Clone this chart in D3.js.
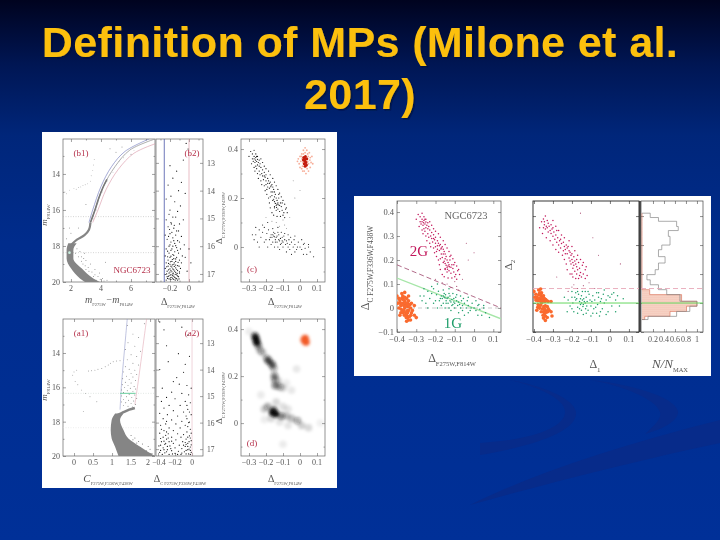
<!DOCTYPE html>
<html>
<head>
<meta charset="utf-8">
<script src="https://cdn.jsdelivr.net/npm/d3@7"></script>
<style>
html, body { margin: 0; padding: 0; background: #00309a; }
svg { display: block; }
</style>
</head>
<body>
<div id="chart"></div>
<script>
var titleLines = ["Definition of MPs (Milone et al.", "2017)"];

// second generation stars, delta F275W-F814W / delta C
var gen2 = [[-0.29,0.39],[-0.28,0.38],[-0.27,0.395],[-0.26,0.38],[-0.27,0.37],[-0.26,0.365],[-0.25,0.37],[-0.262,0.355],[-0.255,0.35],[-0.25,0.358],[-0.265,0.345],[-0.245,0.345],[-0.25,0.335],[-0.26,0.33],[-0.24,0.33],[-0.255,0.32],[-0.23,0.325],[-0.24,0.31],[-0.22,0.315],[-0.235,0.295],[-0.21,0.305],[-0.22,0.29],[-0.205,0.285],[-0.2,0.295],[-0.19,0.28],[-0.2,0.27],[-0.185,0.27],[-0.18,0.26],[-0.175,0.265],[-0.17,0.25],[-0.165,0.255],[-0.18,0.24],[-0.16,0.245],[-0.172,0.246],[-0.155,0.235],[-0.17,0.225],[-0.15,0.225],[-0.145,0.215],[-0.165,0.21],[-0.14,0.2],[-0.155,0.195],[-0.135,0.19],[-0.15,0.185],[-0.13,0.18],[-0.125,0.2],[-0.14,0.17],[-0.12,0.17],[-0.15,0.165],[-0.11,0.165],[-0.13,0.155],[-0.105,0.15],[-0.12,0.145],[-0.095,0.14],[-0.14,0.15],[-0.1,0.13],[-0.085,0.155],[-0.145,0.178],[-0.138,0.162],[-0.128,0.172],[-0.115,0.18],[-0.225,0.3],[-0.215,0.275],[-0.19,0.26],[-0.195,0.235],[-0.16,0.19],[-0.28,0.36],[-0.24,0.355],[-0.275,0.35],
	[-0.3,0.37],[-0.23,0.36],[-0.285,0.34],[-0.22,0.345],[-0.27,0.325],[-0.21,0.33],[-0.265,0.31],[-0.2,0.32],[-0.25,0.3],[-0.185,0.31],[-0.245,0.28],[-0.175,0.295],[-0.23,0.27],[-0.16,0.28],[-0.225,0.255],[-0.15,0.265],[-0.21,0.25],[-0.14,0.25],[-0.205,0.23],[-0.13,0.235],[-0.195,0.215],[-0.12,0.22],[-0.185,0.2],[-0.11,0.205],[-0.18,0.18],[-0.1,0.19],[-0.175,0.16],[-0.09,0.175],[-0.165,0.14],[-0.08,0.16],[-0.155,0.13],[-0.075,0.14],[-0.135,0.125],[-0.09,0.12],[-0.115,0.125],[-0.16,0.225],[-0.175,0.205],[-0.125,0.215],[-0.19,0.245],[-0.15,0.205],[-0.135,0.175],[-0.105,0.18],[-0.2,0.255],[-0.21,0.29],[-0.235,0.34],[-0.27,0.36],[-0.255,0.37],[-0.15,0.16]];
var gen2Sparse = [[-0.14,0.1],[-0.12,0.085],[-0.09,0.09],[-0.06,0.12],[-0.03,0.2],[-0.04,0.27],[0.0,0.23],[-0.165,0.105],[-0.08,0.075],[-0.2,0.12],[-0.1,0.11]];
var gen1 = [[-0.27,0.03],[-0.26,0.05],[-0.25,0.02],[-0.24,0.07],[-0.23,0.04],[-0.22,0.06],[-0.21,0.08],[-0.2,0.03],[-0.195,0.055],[-0.185,0.07],[-0.18,0.03],[-0.17,0.05],[-0.165,0.04],[-0.16,0.05],[-0.155,0.045],[-0.15,0.042],[-0.148,0.055],[-0.145,0.03],[-0.14,0.04],[-0.135,0.02],[-0.13,0.06],[-0.125,0.03],[-0.12,0.025],[-0.115,0.035],[-0.11,0.015],[-0.105,0.04],[-0.1,0.02],[-0.09,0.03],[-0.085,0.01],[-0.08,0.025],[-0.07,0.0],[-0.065,0.03],[-0.06,0.01],[-0.05,0.02],[-0.04,0.0],[-0.035,0.03],[-0.03,0.01],[-0.02,-0.01],[-0.01,0.02],[0.0,0.0],[0.01,-0.01],[0.02,0.01],[0.03,-0.005],[0.04,-0.03],[0.06,-0.02],[-0.17,0.01],[-0.15,0.0],[-0.12,-0.01],[-0.08,-0.02],[-0.05,-0.03],[-0.19,0.0],[-0.24,0.0],[0.08,-0.04],
	[-0.26,0.08],[-0.22,0.09],[-0.19,0.1],[-0.16,0.075],[-0.13,0.08],[-0.11,0.06],[-0.09,0.055],[-0.07,0.05],[-0.03,0.045],[0.01,0.03],[0.05,0.01],[-0.28,0.05],[-0.21,0.02],[-0.16,0.02],[-0.13,0.0],[-0.1,-0.0],[-0.06,-0.01],[-0.03,-0.02],[0.02,-0.03],[0.05,0.0],[-0.125,0.05],[-0.105,0.025],[-0.075,0.015],[-0.155,0.06],[-0.175,0.04],[-0.145,0.02],[-0.095,0.045],[-0.055,0.04],[-0.015,0.0],[0.025,0.015],[-0.135,0.045],[-0.115,0.01]];
var orangeC = [[0.03,0.35],[0.028,0.36],[0.035,0.345],[0.025,0.34],[0.032,0.37],[0.02,0.355],[0.04,0.36],[0.03,0.33],[0.022,0.365],[0.038,0.335]];
var orangeHalo = [[0.018,0.345],[0.045,0.35],[0.026,0.352],[0.034,0.356],[0.03,0.342],[0.012,0.36],[0.05,0.34],[0.03,0.385],[0.015,0.33],[0.048,0.37],[0.005,0.35],[0.058,0.355],[0.025,0.31],[0.04,0.395],[0.0,0.37],[0.06,0.325],[0.01,0.38],[-0.005,0.34],[0.065,0.345],[0.02,0.395],[0.05,0.31],[0.035,0.3],[0.01,0.32],[-0.01,0.36],[0.07,0.37],[0.055,0.385],[0.042,0.32],[0.016,0.31],[0.0,0.325],[0.02,0.38],[0.06,0.365],[0.075,0.34],[-0.015,0.35],[0.03,0.405],[0.045,0.38],[0.008,0.37]];
// cluster field reference stars (orange blob left of the maps)
var orangeA = [[-0.36,0.0],[-0.35,0.01],[-0.37,0.02],[-0.34,-0.01],[-0.355,-0.02],[-0.365,-0.01],[-0.345,0.02],[-0.38,0.01],[-0.33,0.0],[-0.36,0.03],[-0.35,-0.03],[-0.37,-0.02],[-0.34,0.03],[-0.385,0.03],[-0.325,-0.02],[-0.375,0.04],[-0.345,-0.04],[-0.36,0.045],[-0.335,-0.035],[-0.39,0.0],[-0.32,-0.01],[-0.37,0.05],[-0.35,0.04],[-0.34,-0.05],[-0.355,0.015],[-0.348,-0.012],[-0.362,-0.03],[-0.378,-0.005],[-0.332,0.015],[-0.342,0.005],[-0.358,0.025],[-0.352,-0.04],[-0.368,0.035],[-0.382,0.02],[-0.328,-0.03],[-0.39,0.04],[-0.31,-0.03],[-0.35,-0.055],[-0.375,0.06],[-0.395,0.02],[-0.38,-0.02],[-0.325,0.02],[-0.36,0.065],[-0.34,0.05],[-0.33,-0.05],[-0.345,-0.02],[-0.365,0.01],[-0.372,-0.012],[-0.356,0.006],[-0.338,0.012],[-0.3,-0.04],[-0.4,0.05],[-0.31,0.01],[-0.385,-0.03]];
var orangeB = [[-0.36,0.0],[-0.35,0.01],[-0.37,0.015],[-0.34,-0.01],[-0.355,-0.02],[-0.365,-0.008],[-0.345,0.015],[-0.38,0.008],[-0.33,-0.012],[-0.36,0.025],[-0.35,-0.03],[-0.37,-0.018],[-0.34,-0.025],[-0.385,0.02],[-0.325,-0.02],[-0.375,0.028],[-0.345,-0.038],[-0.36,0.035],[-0.335,-0.032],[-0.39,0.01],[-0.32,-0.025],[-0.37,0.035],[-0.35,0.025],[-0.34,-0.045],[-0.355,0.012],[-0.348,-0.012],[-0.362,-0.03],[-0.378,-0.005],[-0.332,0.008],[-0.342,0.005],[-0.358,0.018],[-0.352,-0.042],[-0.368,0.028],[-0.382,0.015],[-0.328,-0.03],[-0.39,0.03],[-0.31,-0.03],[-0.35,-0.052],[-0.375,0.045],[-0.395,0.02],[-0.38,-0.015],[-0.325,0.005],[-0.365,0.048],[-0.33,-0.05],[-0.345,-0.02],[-0.365,0.006],[-0.372,-0.01],[-0.356,0.004],[-0.338,0.012],[-0.305,-0.045],[-0.4,0.04],[-0.31,0.005],[-0.385,-0.025],[-0.34,-0.06]];

var gen2B = [[-0.36,0.28],[-0.35,0.29],[-0.34,0.3],[-0.33,0.285],[-0.345,0.27],[-0.335,0.265],[-0.325,0.275],[-0.33,0.26],[-0.32,0.265],[-0.34,0.255],[-0.315,0.25],[-0.325,0.245],[-0.305,0.255],[-0.31,0.24],[-0.295,0.245],[-0.3,0.23],[-0.285,0.235],[-0.29,0.22],[-0.275,0.225],[-0.28,0.21],[-0.265,0.215],[-0.27,0.2],[-0.255,0.205],[-0.245,0.21],[-0.24,0.195],[-0.23,0.2],[-0.225,0.19],[-0.235,0.185],[-0.22,0.195],[-0.215,0.18],[-0.21,0.175],[-0.225,0.17],[-0.205,0.165],[-0.215,0.155],[-0.2,0.15],[-0.19,0.16],[-0.195,0.14],[-0.185,0.145],[-0.205,0.135],[-0.19,0.13],[-0.18,0.135],[-0.195,0.12],[-0.175,0.125],[-0.165,0.14],[-0.185,0.11],[-0.17,0.115],[-0.16,0.12],[-0.175,0.1],[-0.155,0.105],[-0.145,0.13],[-0.15,0.09],[-0.14,0.1],[-0.165,0.085],[-0.13,0.115],[-0.2,0.1],[-0.245,0.18],[-0.26,0.19],[-0.3,0.26],[-0.28,0.25],[-0.35,0.26],
	[-0.37,0.26],[-0.3,0.285],[-0.355,0.24],[-0.285,0.265],[-0.335,0.225],[-0.27,0.25],[-0.315,0.215],[-0.255,0.235],[-0.3,0.2],[-0.24,0.225],[-0.285,0.185],[-0.215,0.215],[-0.27,0.175],[-0.2,0.195],[-0.25,0.165],[-0.185,0.18],[-0.24,0.15],[-0.17,0.165],[-0.23,0.135],[-0.155,0.15],[-0.225,0.115],[-0.14,0.14],[-0.21,0.1],[-0.125,0.125],[-0.195,0.09],[-0.12,0.095],[-0.18,0.085],[-0.13,0.085],[-0.21,0.145],[-0.175,0.15],[-0.2,0.17],[-0.235,0.17],[-0.26,0.22],[-0.31,0.27],[-0.345,0.28],[-0.16,0.095]];
var gen2BSparse = [[-0.19,0.063],[-0.11,0.07],[-0.155,0.31],[-0.09,0.225],[-0.06,0.165],[0.055,0.135],[-0.17,0.05],[-0.14,0.06],[-0.2,0.055],[-0.08,0.05],[-0.22,0.04],[-0.28,0.09]];
var gen1B = [[-0.22,0.01],[-0.21,-0.01],[-0.2,0.02],[-0.195,0.0],[-0.19,-0.03],[-0.185,0.02],[-0.18,0.01],[-0.17,-0.015],[-0.165,0.03],[-0.16,0.005],[-0.155,-0.005],[-0.15,0.0],[-0.145,0.01],[-0.14,-0.005],[-0.135,0.005],[-0.13,0.0],[-0.128,-0.02],[-0.125,0.02],[-0.12,0.005],[-0.115,-0.025],[-0.11,0.03],[-0.105,0.01],[-0.1,-0.01],[-0.09,0.025],[-0.085,-0.02],[-0.08,0.01],[-0.07,0.035],[-0.065,-0.005],[-0.06,0.02],[-0.05,-0.03],[-0.045,0.015],[-0.035,0.03],[-0.03,0.0],[-0.02,-0.04],[-0.01,0.025],[0.0,0.02],[0.01,-0.01],[0.02,0.035],[0.03,0.01],[0.05,-0.01],[-0.15,0.025],[-0.13,0.04],[-0.17,-0.035],[-0.14,-0.04],[-0.1,-0.045],[-0.07,-0.035],[-0.2,-0.02],[-0.18,0.035],[-0.04,-0.02],[0.07,0.015],
	[-0.225,-0.03],[-0.2,0.04],[-0.17,0.04],[-0.15,-0.025],[-0.145,0.04],[-0.125,-0.035],[-0.115,0.04],[-0.09,-0.035],[-0.06,0.035],[-0.055,-0.045],[-0.03,0.045],[-0.01,-0.03],[0.01,0.03],[0.03,-0.03],[-0.16,-0.02],[-0.175,0.015],[-0.138,0.015],[-0.142,-0.012],[-0.122,-0.01],[-0.095,0.005],[-0.075,-0.015],[-0.05,0.005],[-0.02,0.01],[0.04,0.025],[-0.24,0.02],[-0.155,0.015]];

// density map of panel d: x, y, darkness
var densityD = [[-0.26,0.36,1],[-0.255,0.345,1],[-0.265,0.37,0.7],[-0.245,0.33,0.5],[-0.235,0.31,0.3],[-0.22,0.3,0.25],[-0.195,0.275,0.4],[-0.185,0.265,0.65],[-0.165,0.25,0.65],[-0.155,0.235,0.35],[-0.15,0.2,0.5],[-0.15,0.185,0.3],[-0.145,0.16,0.5],[-0.12,0.155,0.35],[-0.1,0.15,0.18],[-0.13,0.18,0.2],[-0.16,0.045,1],[-0.145,0.04,1],[-0.155,0.055,0.7],[-0.19,0.07,0.3],[-0.21,0.06,0.2],[-0.11,0.03,0.5],[-0.08,0.03,0.25],[-0.05,0.02,0.25],[-0.015,0.01,0.35],[0.01,-0.01,0.18],[0.05,-0.02,0.15],[-0.14,0.09,0.15],[-0.1,0.07,0.12],[-0.17,0.02,0.15],[-0.07,0.06,0.1],[-0.05,0.14,0.09],[-0.02,0.23,0.09],[-0.07,-0.01,0.1],[-0.23,0.12,0.08],[-0.3,0.39,0.07],[-0.1,-0.09,0.08],[-0.12,0.005,0.1],[0.12,0.0,0.06],[-0.21,0.015,0.07],[-0.08,0.17,0.07]];
var orangeD = [[0.03,0.36],[0.03,0.35],[0.035,0.345],[0.025,0.355]];

// ridge of the main sequence: mag, left colour, right colour
var b1Main = [[17.85,1.82,2.38],[18.22,1.71,2.16],[18.69,1.71,2.16],[19.24,2.0,2.71],[19.8,2.6,3.49],[20.0,2.93,3.93]];
var b1Giant = [[7.6,12.06],[5.93,12.67],[4.93,13.6],[4.16,14.7],[3.6,16.0],[3.3,16.7]];
var b1GiantLow = [[4.4,14.3],[4.16,14.7],[3.85,15.35],[3.6,16.0],[3.3,16.7]];
var b1Sub = [[3.3,16.7],[3.2,17.1],[2.9,17.4],[2.4,17.65],[2.05,17.9]];
var b1Blue = [[7.2,12.06],[5.6,12.75],[4.7,13.6],[4.0,14.7],[3.45,16.0],[3.2,16.7]];
var b1Red = [[7.7,12.3],[6.2,12.85],[5.15,13.75],[4.35,14.85],[3.8,16.0],[3.45,16.7]];
var b1Hb = [[1.6,15.0],[1.9,14.9],[2.2,14.8],[2.5,14.75],[2.8,14.65],[3.1,14.55],[3.3,14.4],[3.35,14.1],[3.45,13.8],[3.5,13.5],[3.55,13.2],[1.7,15.1],[2.35,14.85],[2.65,14.72],[2.95,14.6]];
var b1Field = [[4.6,12.6],[5.0,12.8],[5.4,12.5],[6.0,12.9],[3.0,15.7],[2.5,17.0],[2.0,17.3],[1.9,17.0],[2.3,18.4],[2.7,18.6],[3.0,18.8],[3.3,19.0],[3.6,19.3],[3.9,19.5],[4.1,19.8],[3.2,19.4],[3.5,19.7],[3.7,19.9],[2.9,18.4],[4.3,18.9],[2.8,19.0],[3.0,19.3],[1.7,17.6],[3.4,19.45],[4.2,19.95],[3.8,19.7],[2.5,18.6],[2.7,18.85],[2.95,19.1],[3.15,19.2],[2.6,18.3],[2.4,18.15],[3.6,19.6],[3.95,19.85],[4.4,19.9],[2.85,18.7]];
var b1RgbDots = [[5.2,13.3],[4.8,13.9],[4.4,14.4],[4.1,15.0],[3.8,15.6],[3.7,16.0],[3.5,16.5],[6.2,12.7],[5.5,13.1]];

var b2Stars = [[-0.03,12.3],[-0.01,12.5],[-0.06,12.9],[-0.2,13.1],[-0.13,13.3],[-0.17,13.55],[-0.08,13.7],[-0.22,13.8],[-0.11,14.0],[-0.04,14.1],[-0.19,14.2],[-0.24,14.3],[-0.15,14.4],[-0.09,14.55],[-0.2,14.7],[-0.12,14.75],[-0.21,14.85],[-0.17,14.95],[-0.14,14.95],[-0.24,15.05],[-0.06,15.05],[-0.19,15.15],[-0.1,15.2],[-0.22,15.3],[-0.16,15.35],[-0.13,15.45],[-0.2,15.55],[-0.25,15.6],[-0.08,15.65],[-0.17,15.7],[-0.23,15.75],[-0.12,15.8],[-0.19,15.85],[-0.15,15.9],[-0.05,15.95],[-0.21,16.0],[-0.17,16.0],[-0.13,16.05],[-0.24,16.1],[-0.09,16.1],[-0.19,16.15],[-0.15,16.2],[-0.21,16.25],[-0.11,16.25],[-0.17,16.3],[-0.25,16.35],[-0.07,16.35],[-0.13,16.4],[-0.2,16.4],[-0.16,16.45],[-0.22,16.5],[-0.1,16.5],[-0.18,16.55],[-0.14,16.55],[-0.24,16.6],[-0.08,16.6],[-0.2,16.65],[-0.16,16.65],[-0.12,16.7],[-0.22,16.72],[-0.18,16.75],[-0.14,16.78],[-0.25,16.8],[-0.09,16.8],[-0.2,16.82],[-0.16,16.85],[-0.12,16.88],[-0.23,16.9],[-0.18,16.92],[-0.14,16.95],[-0.21,16.97],[-0.1,16.97],[-0.17,17.0],[-0.25,17.02],[-0.13,17.03],[-0.2,17.05],[-0.16,17.08],[-0.23,17.1],[-0.11,17.1],[-0.18,17.12],[-0.14,17.15],[-0.21,17.18],[-0.16,17.2],[-0.24,17.22],[-0.12,17.22],[0.0,16.1],[0.02,16.6],[-0.02,16.9],[-0.04,16.4],
	[-0.185,15.2],[-0.155,15.25],[-0.205,15.4],[-0.11,15.45],[-0.18,15.5],[-0.14,15.6],[-0.215,15.65],[-0.16,15.8],[-0.1,15.85],[-0.2,15.95],[-0.14,15.98],[-0.18,16.1],[-0.225,16.18],[-0.12,16.15],[-0.16,16.33],[-0.19,16.36],[-0.225,16.38],[-0.14,16.46],[-0.175,16.48],[-0.115,16.58],[-0.195,16.56],[-0.155,16.6],[-0.215,16.62],[-0.175,16.67],[-0.14,16.68],[-0.105,16.72],[-0.19,16.72],[-0.155,16.73],[-0.235,16.74],[-0.17,16.82],[-0.13,16.83],[-0.215,16.85],[-0.19,16.88],[-0.15,16.9],[-0.1,16.92],[-0.2,16.93],[-0.165,16.97],[-0.125,16.98],[-0.235,17.0],[-0.19,17.02],[-0.145,17.02],[-0.175,17.06],[-0.12,17.07],[-0.215,17.08],[-0.15,17.12],[-0.195,17.14],[-0.17,17.17],[-0.225,17.16],[-0.13,17.17],[-0.19,17.2],[-0.105,17.18],[-0.145,17.22]];
var a2Stars = [[-0.38,12.2],[-0.33,12.5],[-0.12,12.4],[-0.05,12.7],[-0.3,13.1],[-0.16,13.4],[-0.03,13.5],[-0.28,13.7],[-0.08,13.8],[-0.38,14.0],[-0.1,14.1],[-0.18,14.3],[-0.22,14.45],[-0.15,14.55],[-0.06,14.6],[-0.35,14.7],[-0.01,14.7],[-0.24,14.85],[-0.12,14.9],[-0.04,14.95],[-0.3,15.05],[-0.2,15.1],[-0.36,15.2],[-0.08,15.2],[-0.02,15.25],[-0.27,15.35],[-0.14,15.35],[-0.33,15.45],[-0.05,15.5],[-0.22,15.55],[-0.1,15.6],[-0.38,15.65],[-0.29,15.7],[-0.01,15.7],[-0.17,15.75],[-0.34,15.85],[-0.06,15.85],[-0.24,15.9],[-0.12,15.95],[-0.03,15.98],[-0.31,16.05],[-0.19,16.05],[-0.37,16.1],[-0.08,16.1],[-0.27,16.2],[-0.14,16.2],[-0.02,16.25],[-0.33,16.3],[-0.22,16.3],[-0.06,16.35],[-0.38,16.4],[-0.28,16.42],[-0.17,16.42],[-0.1,16.45],[-0.03,16.5],[-0.34,16.55],[-0.24,16.55],[-0.13,16.55],[-0.3,16.62],[-0.07,16.62],[-0.19,16.65],[-0.01,16.68],[-0.36,16.72],[-0.27,16.72],[-0.11,16.72],[-0.22,16.78],[-0.05,16.78],[-0.32,16.82],[-0.15,16.85],[-0.39,16.88],[-0.26,16.88],[-0.08,16.9],[-0.02,16.92],[-0.34,16.95],[-0.2,16.95],[-0.12,16.98],[-0.29,17.02],[-0.05,17.02],[-0.37,17.05],[-0.24,17.06],[-0.16,17.08],[-0.09,17.1],[-0.01,17.12],[-0.32,17.14],[-0.2,17.16],[-0.04,17.18],[-0.27,17.2],[-0.13,17.2],
	[-0.06,15.35],[-0.03,15.6],[-0.07,15.75],[-0.3,15.95],[-0.04,16.0],[-0.36,16.25],[-0.05,16.15],[-0.01,16.4],[-0.3,16.35],[-0.05,16.55],[-0.02,16.58],[-0.31,16.48],[-0.37,16.6],[-0.08,16.75],[-0.035,16.72],[-0.33,16.7],[-0.28,16.58],[-0.07,16.82],[-0.01,16.84],[-0.31,16.78],[-0.37,16.85],[-0.24,16.7],[-0.29,16.9],[-0.05,16.9],[-0.1,16.85],[-0.035,17.0],[-0.33,17.02],[-0.25,16.98],[-0.38,17.12],[-0.07,17.05],[-0.02,17.05],[-0.3,17.1],[-0.23,17.18],[-0.12,17.15],[-0.07,17.18],[-0.35,17.2],[-0.02,17.2],[-0.17,17.2]];

var a1Main = [[17.52,1.08,1.3],[17.9,0.99,1.21],[18.49,0.965,1.3],[18.98,0.99,1.43],[19.46,1.08,1.74],[20.0,1.17,2.13]];
var a1Sub = [[1.6,17.2],[1.45,17.3],[1.3,17.45],[1.15,17.6]];
var a1Blue = [[1.4,12.02],[1.36,13.0],[1.3,14.5],[1.25,15.8],[1.21,17.3]];
var a1Red = [[1.91,12.02],[1.85,13.0],[1.76,14.5],[1.68,15.8],[1.6,17.0]];
var a1Hb = [[1.21,14.45],[1.12,14.47],[1.03,14.51],[0.96,14.6],[0.9,14.7],[0.82,14.8],[0.73,14.9],[0.63,14.95],[0.55,15.0],[0.46,15.03],[0.38,15.05],[0.07,15.0],[-0.035,15.29],[0.03,15.67],[0.2,16.16],[0.42,16.55],[0.6,16.84],[0.245,17.4],[0.0,15.1],[0.1,15.85],[0.3,16.35]];
var a1Rgb = [[1.4,12.4],[1.85,12.3],[1.55,12.9],[1.7,13.1],[1.42,13.4],[1.6,13.6],[1.35,13.8],[1.75,13.9],[1.5,14.1],[1.65,14.2],[1.4,14.4],[1.55,14.6],[1.7,14.7],[1.35,14.8],[1.45,14.95],[1.6,15.0],[1.3,15.1],[1.5,15.2],[1.65,15.25],[1.38,15.35],[1.55,15.4],[1.28,15.5],[1.45,15.55],[1.62,15.6],[1.35,15.7],[1.5,15.75],[1.27,15.85],[1.42,15.9],[1.58,15.95],[1.33,16.0],[1.48,16.05],[1.62,16.1],[1.25,16.15],[1.4,16.2],[1.55,16.25],[1.3,16.3],[1.45,16.4],[1.6,16.45],[1.25,16.5],[1.38,16.55],[1.52,16.6],[1.65,16.65],[1.3,16.7],[1.43,16.75],[1.57,16.8],[1.25,16.85],[1.36,16.9],[1.5,16.95],[1.62,17.0],[1.3,17.05],[1.42,17.1],[1.54,17.15]];
var a1Right = [[1.5,18.8],[1.6,18.95],[1.7,19.15],[1.8,19.3],[1.95,19.45],[1.75,19.5],[1.9,19.7],[2.05,19.85],[1.85,19.85],[1.65,19.25],[1.55,19.05],[2.0,19.6]];

// histogram of the delta 2 distribution (right panel)
var histEdges = [0.31,0.295,0.282,0.264,0.25,0.23,0.2,0.184,0.16,0.138,0.115,0.098,0.08,0.063,0.046,0.029,0.006,-0.011,-0.029,-0.046,-0.057];
var histAll = [0.15,0.3,0.63,0.66,0.48,0.51,0.36,0.3,0.42,0.3,0.24,0.09,0.15,0.3,0.45,0.69,1,0.87,0.63,0.11];
var hist1G = [0,0,0,0,0,0,0,0,0,0,0,0,0,0,0.14,0.72,1,0.81,0.51,0.05];

var axC1 = [-0.3, -0.2, -0.1, 0, 0.1];
var axCy = [0, 0.2, 0.4];
var axMag = [14, 16, 18, 20];
var axRight = [13, 14, 15, 16, 17];

var width = 720, height = 540;
var lab = "#555", red = "#b5304a", serif = "'Liberation Serif', 'DejaVu Serif', serif";

var svg = d3.select("#chart").append("svg").attr("width", width).attr("height", height);
var defs = svg.append("defs");

var grad = defs.append("linearGradient").attr("id", "bg").attr("x1", 0).attr("x2", 0).attr("y1", 0).attr("y2", 1);
[[0, "#00031f"], [0.12, "#001654"], [0.25, "#00267a"], [0.45, "#002c8c"], [1, "#003098"]].forEach(function(s) {
	grad.append("stop").attr("offset", s[0]).attr("stop-color", s[1]);
});

defs.append("filter").attr("id", "soft").attr("filterUnits", "userSpaceOnUse")
	.attr("x", 0).attr("y", 0).attr("width", width).attr("height", height)
	.append("feGaussianBlur").attr("stdDeviation", 0.45);
defs.append("filter").attr("id", "softD").attr("filterUnits", "userSpaceOnUse")
	.attr("x", 0).attr("y", 0).attr("width", width).attr("height", height)
	.append("feGaussianBlur").attr("stdDeviation", 1.7);
defs.append("filter").attr("id", "titleShadow").attr("x", "-5%").attr("y", "-10%").attr("width", "110%").attr("height", "130%")
	.append("feDropShadow").attr("dx", 1.5).attr("dy", 1.5).attr("stdDeviation", 0.6).attr("flood-color", "#000a30").attr("flood-opacity", 0.7);
var hatch = defs.append("pattern").attr("id", "hatch").attr("width", 2).attr("height", 2).attr("patternUnits", "userSpaceOnUse");
hatch.append("rect").attr("width", 2).attr("height", 2).attr("fill", "#f8dcd0");
hatch.append("circle").attr("cx", 1).attr("cy", 1).attr("r", 0.6).attr("fill", "#ee9f88");

svg.append("rect").attr("width", width).attr("height", height).attr("fill", "url(#bg)");

// swooshes of the slide template
var swoosh = svg.append("g").attr("fill", "#072b8a");
swoosh.append("path").attr("d", "M470,505C540,470 640,440 720,420L720,443C640,460 560,480 470,505Z");
swoosh.append("path").attr("d", "M480,455C540,445 578,430 576,412C574,398 540,385 510,380C535,386 565,398 565,412C565,428 530,440 480,443Z");
swoosh.append("path").attr("d", "M590,380C640,385 678,400 678,412C678,422 660,430 645,434C655,425 662,418 660,412C655,398 620,385 590,380Z");

var title = svg.append("g").attr("filter", "url(#titleShadow)");
title.selectAll("text").data(titleLines).enter().append("text")
	.attr("x", 360).attr("y", function(d, i) { return 57 + i * 52; })
	.attr("text-anchor", "middle")
	.attr("font-family", "'Liberation Sans', Arial, sans-serif")
	.attr("font-weight", "bold").attr("font-size", 43).attr("letter-spacing", 0.4)
	.attr("fill", "#fcc00a")
	.text(function(d) { return d; });

var left = svg.append("g").attr("filter", "url(#soft)");
left.append("rect").attr("x", 42).attr("y", 132).attr("width", 295).attr("height", 356).attr("fill", "#fff");
var right = svg.append("g").attr("filter", "url(#soft)");
right.append("rect").attr("x", 354).attr("y", 196).attr("width", 357).attr("height", 180).attr("fill", "#fff");

var clipN = 0;

function tickFmt(v) {
	return String(v).replace("-", "\u2212");
}

// frame with inward ticks on all four sides, returns scales and a clipped group
function panel(host, box, xDom, yDom, o) {
	var x = d3.scaleLinear().domain(xDom).range([box[0], box[2]]);
	var y = d3.scaleLinear().domain(yDom).range([box[3], box[1]]);
	var g = host.append("g");
	var col = o.col || "#666";
	var fs = o.fs || 8;

	function axis(gen, tx, ty, vals, size) {
		var a = g.append("g").attr("transform", "translate(" + tx + "," + ty + ")")
			.call(gen.tickValues(vals).tickSize(size).tickFormat(""));
		a.select(".domain").remove();
		a.selectAll("line").attr("stroke", col).attr("stroke-width", 0.6);
	}
	axis(d3.axisBottom(x), 0, box[3], o.xTicks, -3);
	axis(d3.axisTop(x), 0, box[1], o.xTicks, -3);
	axis(d3.axisLeft(y), box[0], 0, o.yTicks, -3);
	axis(d3.axisRight(y), box[2], 0, o.yTicks, -3);
	if (o.xMinor) { axis(d3.axisBottom(x), 0, box[3], o.xMinor, -1.5); axis(d3.axisTop(x), 0, box[1], o.xMinor, -1.5); }
	if (o.yMinor) { axis(d3.axisLeft(y), box[0], 0, o.yMinor, -1.5); axis(d3.axisRight(y), box[2], 0, o.yMinor, -1.5); }

	g.append("rect").attr("x", box[0]).attr("y", box[1]).attr("width", box[2] - box[0]).attr("height", box[3] - box[1])
		.attr("fill", "none").attr("stroke", col).attr("stroke-width", o.sw || 0.7);

	if (o.xLab) {
		g.selectAll(null).data(o.xLab).enter().append("text")
			.attr("x", function(d) { return x(d) + (o.xLabShift ? o.xLabShift(d) : 0); }).attr("y", box[3] + (o.xLabDy || 9))
			.attr("text-anchor", "middle").attr("font-family", serif).attr("font-size", fs).attr("fill", lab)
			.text(tickFmt);
	}
	if (o.yLab) {
		g.selectAll(null).data(o.yLab).enter().append("text")
			.attr("x", o.yLabRight ? box[2] + 4 : box[0] - 3).attr("y", function(d) { return y(d) + 3; })
			.attr("text-anchor", o.yLabRight ? "start" : "end").attr("font-family", serif).attr("font-size", fs).attr("fill", lab)
			.text(tickFmt);
	}

	var id = "clip" + (clipN++);
	defs.append("clipPath").attr("id", id).append("rect")
		.attr("x", box[0]).attr("y", box[1]).attr("width", box[2] - box[0]).attr("height", box[3] - box[1]);
	return { x: x, y: y, g: host.append("g").attr("clip-path", "url(#" + id + ")") };
}

function dots(p, data, r, fill, op) {
	p.g.append("g").selectAll("circle").data(data).enter().append("circle")
		.attr("cx", function(d) { return p.x(d[0]); })
		.attr("cy", function(d) { return p.y(d[1]); })
		.attr("r", r).attr("fill", fill).attr("opacity", op === undefined ? 1 : op);
}

function curve(p, data, stroke, sw, dash) {
	var line = d3.line().x(function(d) { return p.x(d[0]); }).y(function(d) { return p.y(d[1]); }).curve(d3.curveCatmullRom);
	p.g.append("path").attr("d", line(data)).attr("fill", "none").attr("stroke", stroke)
		.attr("stroke-width", sw).attr("stroke-dasharray", dash || null);
}

function ridge(p, data, fill) {
	var area = d3.area().curve(d3.curveMonotoneY)
		.y(function(d) { return p.y(d[0]); })
		.x0(function(d) { return p.x(d[1]); })
		.x1(function(d) { return p.x(d[2]); });
	p.g.append("path").attr("d", area(data)).attr("fill", fill);
}

function label(host, x, y, txt, fill, size, rot) {
	return host.append("text").attr("x", x).attr("y", y).attr("font-family", serif)
		.attr("font-size", size).attr("fill", fill).attr("text-anchor", "middle")
		.attr("transform", rot ? "rotate(" + rot + " " + x + " " + y + ")" : null)
		.text(txt);
}

// symbol plus small subscript, pairs may repeat for m_a - m_b
function subLabel(host, x, y, parts, size, subSize, rot, mainItalic) {
	var t = host.append("text").attr("x", x).attr("y", y).attr("font-family", serif)
		.attr("text-anchor", "middle").attr("fill", lab)
		.attr("transform", rot ? "rotate(" + rot + " " + x + " " + y + ")" : null);
	var shift = size * 0.3;
	parts.forEach(function(part, i) {
		t.append("tspan").attr("font-size", size).attr("font-style", mainItalic ? "italic" : null)
			.attr("dy", i ? -shift : null).text(part[0]);
		t.append("tspan").attr("font-size", subSize).attr("dy", shift).text(part[1]);
	});
}

// -------- left figure --------
var pB1 = panel(left, [63, 139, 155, 282], [1.47, 7.6], [20, 12.06], {
	xTicks: [2, 4, 6], xMinor: [3, 5, 7], yTicks: axMag, yMinor: [13, 15, 17, 19],
	xLab: [2, 4, 6], yLab: axMag
});
curve(pB1, [[1.47, 16.37], [7.6, 16.37]], "#aaa", 0.5, "1 1.5");
curve(pB1, [[1.47, 18.37], [7.6, 18.37]], "#aaa", 0.5, "1 1.5");
ridge(pB1, b1Main, "#858585");
curve(pB1, b1Sub, "#858585", 2.2);
curve(pB1, b1Giant, "#999", 0.8);
curve(pB1, b1GiantLow, "#777", 1.6);
curve(pB1, b1Blue, "#6a72b8", 0.6);
curve(pB1, b1Red, "#d896a6", 0.6);
dots(pB1, b1RgbDots, 0.4, "#999");
dots(pB1, b1Hb, 0.45, "#999");
dots(pB1, b1Field, 0.5, "#8a8a8a");
dots(pB1, [[1.9, 18.37]], 1.3, "#c8f0e0");

var pB2 = panel(left, [156, 139, 203, 282], [-0.347, 0.147], [17.29, 12.14], {
	xTicks: [-0.2, 0], xMinor: [-0.3, -0.1, 0.1], yTicks: axRight,
	xLab: [-0.2, 0], yLab: axRight, yLabRight: true
});
curve(pB2, [[-0.26, 12.14], [-0.26, 17.29]], "#4a55a8", 0.8);
curve(pB2, [[0, 12.14], [0, 17.29]], "#e0a0ae", 0.7);
dots(pB2, b2Stars, 0.6, "#111");

var pC = panel(left, [241, 139, 325, 282], [-0.347, 0.147], [-0.143, 0.441], {
	xTicks: axC1, yTicks: axCy, yMinor: [-0.1, 0.1, 0.3],
	xLab: axC1, yLab: axCy
});
dots(pC, orangeHalo, 0.9, "#f59a80", 0.8);
dots(pC, orangeC, 1.5, "#c41c10");
dots(pC, gen2, 0.6, "#111");
dots(pC, gen2Sparse, 0.45, "#444");
dots(pC, gen1, 0.55, "#111");

var pA1 = panel(left, [63, 319, 155, 456], [-0.29, 2.13], [20, 12.02], {
	xTicks: [0, 0.5, 1, 1.5, 2], yTicks: axMag, yMinor: [13, 15, 17, 19],
	xLab: [0, 0.5, 1, 1.5, 2], yLab: axMag,
	xLabShift: function(d) { return d === 2 ? -2 : 0; }
});
curve(pA1, [[-0.29, 16.35], [2.13, 16.35]], "#c4d0c8", 0.5, "1 1.5");
curve(pA1, [[-0.29, 18.35], [2.13, 18.35]], "#ddd", 0.5, "1 1.5");
curve(pA1, a1Blue, "#8088c0", 0.5);
curve(pA1, a1Red, "#dc9aa8", 0.5);
curve(pA1, [[1.21, 16.35], [1.62, 16.35]], "#6ccfa0", 1);
dots(pA1, a1Rgb, 0.45, "#444");
dots(pA1, a1Hb, 0.45, "#666");
dots(pA1, a1Right, 0.5, "#666");
curve(pA1, a1Sub, "#858585", 2.5);
ridge(pA1, a1Main, "#858585");

var pA2 = panel(left, [156, 319, 203, 456], [-0.424, 0.129], [17.26, 12.09], {
	xTicks: [-0.4, -0.2, 0], yTicks: axRight,
	xLab: [-0.4, -0.2, 0], yLab: axRight, yLabRight: true, fs: 7.5,
	xLabShift: function(d) { return d === -0.4 ? 1 : 0; }
});
curve(pA2, [[0, 12.09], [0, 17.26]], "#e8b8c2", 0.6);
dots(pA2, a2Stars, 0.6, "#111");

var pD = panel(left, [241, 319, 325, 456], [-0.347, 0.147], [-0.14, 0.443], {
	xTicks: axC1, yTicks: axCy, yMinor: [-0.1, 0.1, 0.3],
	xLab: axC1, yLab: axCy
});
var dens = pD.g.append("g").attr("filter", "url(#softD)");
dens.selectAll("circle").data(densityD).enter().append("circle")
	.attr("cx", function(d) { return pD.x(d[0]); })
	.attr("cy", function(d) { return pD.y(d[1]); })
	.attr("r", 3.8).attr("fill", "#111")
	.attr("opacity", function(d) { return d[2]; });
dens.selectAll(".o").data(orangeD).enter().append("circle")
	.attr("cx", function(d) { return pD.x(d[0]); })
	.attr("cy", function(d) { return pD.y(d[1]); })
	.attr("r", 3.8).attr("fill", "#f25a28");

label(left, 81, 156, "(b1)", red, 9);
label(left, 192, 156, "(b2)", red, 9);
label(left, 132, 273, "NGC6723", red, 9);
label(left, 252, 272, "(c)", red, 9);
label(left, 81, 336, "(a1)", red, 9);
label(left, 192, 336, "(a2)", red, 9);
label(left, 252, 446, "(d)", red, 9);

subLabel(left, 109, 303, [["m", "F275W"], ["\u2212m", "F814W"]], 10, 4.5, 0, true);
subLabel(left, 178, 305, [["\u0394", "F275W,F814W"]], 10, 4.5);
subLabel(left, 285, 305, [["\u0394", "F275W,F814W"]], 10, 4.5);
subLabel(left, 108, 482, [["C", "F275W,F336W,F438W"]], 11, 4.5, 0, true);
subLabel(left, 180, 482, [["\u0394", "C F275W,F336W,F438W"]], 10, 4.5);
subLabel(left, 285, 482, [["\u0394", "F275W,F814W"]], 10, 4.5);
subLabel(left, 47, 215, [["m", "F814W"]], 9, 5, -90, true);
subLabel(left, 47, 390, [["m", "F814W"]], 9, 5, -90, true);
subLabel(left, 222, 218, [["\u0394", "C F275W,F336W,F438W"]], 9, 4.5, -90);
subLabel(left, 222, 398, [["\u0394", "C F275W,F336W,F438W"]], 9, 4.5, -90);

// -------- right figure --------
var axAy = [-0.1, 0, 0.1, 0.2, 0.3, 0.4];
var axAx = [-0.4, -0.3, -0.2, -0.1, 0, 0.1];
var pA = panel(right, [397, 201, 501, 332], [-0.4, 0.14], [-0.1, 0.446], {
	col: "#555", xTicks: axAx, yTicks: axAy, fs: 8.5,
	xLab: axAx, yLab: axAy, xLabDy: 10
});
curve(pA, [[-0.4, 0], [0.14, 0]], "#b5b5b5", 0.7, "4 3");
curve(pA, [[-0.4, 0.18], [0.14, 0.0]], "#a85a7c", 0.9, "5 3");
curve(pA, [[-0.4, 0.125], [0.14, -0.045]], "#a6e6a8", 1.3);
dots(pA, gen2, 0.75, "#c2185b");
dots(pA, gen2Sparse, 0.55, "#a84a70");
dots(pA, gen1, 0.75, "#1f9e6a");
dots(pA, orangeA, 1.8, "#fa6a2e");

var pM = panel(right, [533, 201, 639, 332], [-0.405, 0.153], [-0.1, 0.352], {
	col: "#222", xTicks: axAx, yTicks: [-0.1, 0, 0.1, 0.2, 0.3], fs: 8.5,
	xLab: axAx, xLabDy: 10, sw: 0.9
});
curve(pM, [[-0.405, 0.05], [0.153, 0.05]], "#e8a8b8", 0.9, "5 3");
dots(pM, gen2B, 0.75, "#c2185b");
dots(pM, gen2BSparse, 0.55, "#a84a70");
dots(pM, gen1B, 0.75, "#1f9e6a");
dots(pM, orangeB, 1.8, "#fa6a2e");
curve(pM, [[-0.405, 0], [0.153, 0]], "#66d860", 1);

var axHist = [0.2, 0.4, 0.6, 0.8, 1];
var pH = panel(right, [641, 201, 703, 332], [-0.018, 1.11], [-0.1, 0.352], {
	col: "#444", xTicks: axHist, yTicks: [-0.1, 0, 0.1, 0.2, 0.3], fs: 8,
	xLab: axHist, xLabDy: 10
});
function histPath(vals) {
	var pts = [[0, histEdges[0]]];
	vals.forEach(function(v, i) {
		pts.push([v, histEdges[i]]);
		pts.push([v, histEdges[i + 1]]);
	});
	pts.push([0, histEdges[histEdges.length - 1]]);
	return d3.line().x(function(d) { return pH.x(d[0]); }).y(function(d) { return pH.y(d[1]); })(pts);
}
pH.g.append("path").attr("d", histPath(hist1G)).attr("fill", "url(#hatch)").attr("stroke", "#d86a50").attr("stroke-width", 0.6);
pH.g.append("path").attr("d", histPath(histAll)).attr("fill", "none").attr("stroke", "#888").attr("stroke-width", 0.7);
curve(pH, [[-0.018, 0.05], [1.11, 0.05]], "#e8a8b8", 0.9, "5 3");
curve(pH, [[-0.018, 0], [1.11, 0]], "#66d860", 1);

// thick divider between map and histogram
right.append("line").attr("x1", 640).attr("x2", 640).attr("y1", 201).attr("y2", 332).attr("stroke", "#111").attr("stroke-width", 1.3);

label(right, 466, 219, "NGC6723", "#666", 10.5);
label(right, 419, 256, "2G", "#c2185b", 15);
label(right, 453, 328, "1G", "#1f9e6a", 15);
subLabel(right, 369, 268, [["\u0394", "C  F275W,F336W,F438W"]], 12, 7.5, -90);
subLabel(right, 452, 362, [["\u0394", "F275W,F814W"]], 12, 6.5);
subLabel(right, 512, 265, [["\u0394", "2"]], 11, 7, -90);
subLabel(right, 595, 368, [["\u0394", "1"]], 12, 7);
subLabel(right, 670, 368, [["N/N", "MAX"]], 13, 6.5, 0, true);
</script>
</body>
</html>
